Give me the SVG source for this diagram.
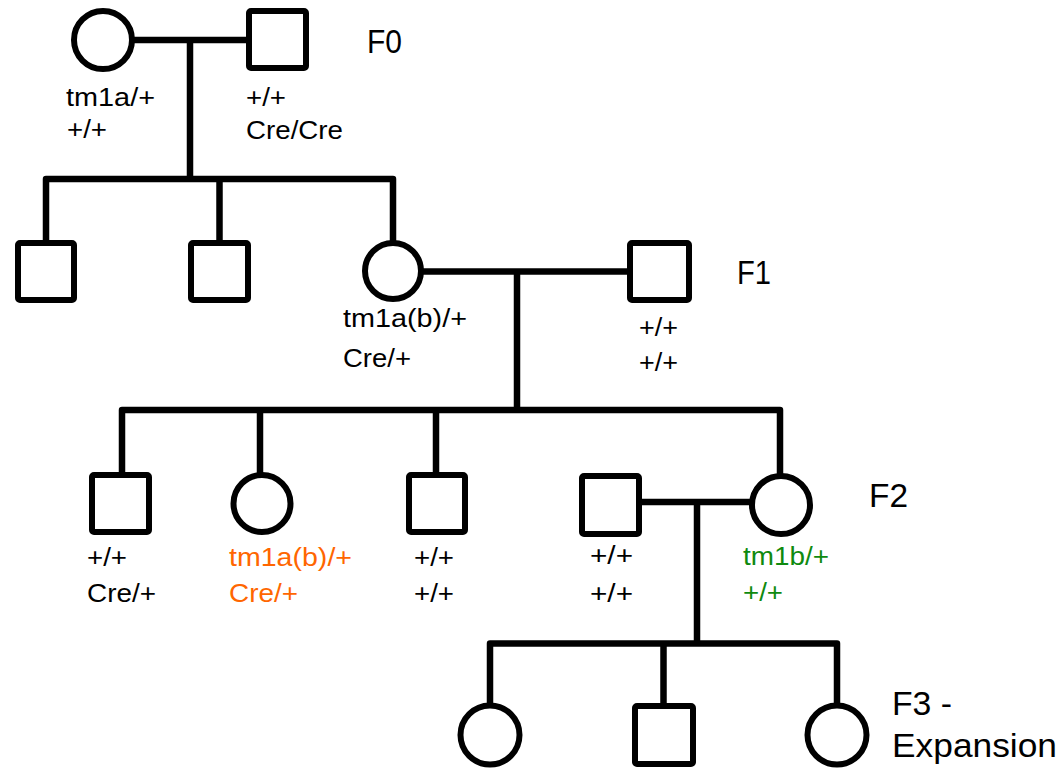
<svg xmlns="http://www.w3.org/2000/svg" width="1059" height="770" viewBox="0 0 1059 770">
<style>
.sym{fill:#fff;stroke:#000;stroke-width:6;stroke-linejoin:round}
.ln{fill:none;stroke:#000;stroke-width:6.5;stroke-linejoin:round;stroke-linecap:butt}
.lb{font-family:"Liberation Sans",Arial,sans-serif;font-size:25.5px;fill:#000}
.gen{font-family:"Liberation Sans",Arial,sans-serif;font-size:34px;fill:#000}
.or{fill:#FF6600}
.gr{fill:#0F8A0F}
</style>
<rect width="1059" height="770" fill="#fff"/>
<g id="connectors">
<path class="ln" d="M132,40 H249"/>
<path class="ln" d="M190,40 V179"/>
<path class="ln" d="M46,243 V179 H393 V243"/>
<path class="ln" d="M219.5,179 V243"/>
<path class="ln" d="M421,271.5 H630"/>
<path class="ln" d="M517,271.5 V410"/>
<path class="ln" d="M122,475 V410 H780 V476"/>
<path class="ln" d="M260,410 V475"/>
<path class="ln" d="M436,410 V475"/>
<path class="ln" d="M639,502 H752"/>
<path class="ln" d="M697,502 V643.5"/>
<path class="ln" d="M490,705.5 V643.5 H837 V705.5"/>
<path class="ln" d="M663.5,643.5 V706"/>
</g>
<g id="f0-female">
<circle class="sym" cx="103" cy="40" r="29"/>
<text class="lb" x="66" y="106" textLength="89" lengthAdjust="spacingAndGlyphs">tm1a/+</text>
<text class="lb" x="67" y="138" textLength="40" lengthAdjust="spacingAndGlyphs">+/+</text>
</g>
<g id="f0-male">
<rect class="sym" x="249" y="11" width="57" height="57" rx="2"/>
<text class="lb" x="246" y="106" textLength="40" lengthAdjust="spacingAndGlyphs">+/+</text>
<text class="lb" x="246" y="139" textLength="97" lengthAdjust="spacingAndGlyphs">Cre/Cre</text>
</g>
<g id="label-f0"><text class="gen" x="367" y="53" textLength="35" lengthAdjust="spacingAndGlyphs">F0</text></g>
<g id="f1-male-1"><rect class="sym" x="18" y="243" width="56" height="57" rx="2"/></g>
<g id="f1-male-2"><rect class="sym" x="191" y="243" width="57" height="57" rx="2"/></g>
<g id="f1-female">
<circle class="sym" cx="393" cy="271" r="28"/>
<text class="lb" x="343" y="327" textLength="124" lengthAdjust="spacingAndGlyphs">tm1a(b)/+</text>
<text class="lb" x="343" y="367" textLength="68" lengthAdjust="spacingAndGlyphs">Cre/+</text>
</g>
<g id="f1-male-partner">
<rect class="sym" x="630" y="243" width="59" height="57" rx="2"/>
<text class="lb" x="639" y="336" textLength="39" lengthAdjust="spacingAndGlyphs">+/+</text>
<text class="lb" x="639" y="371" textLength="39" lengthAdjust="spacingAndGlyphs">+/+</text>
</g>
<g id="label-f1"><text class="gen" x="737" y="284" textLength="34" lengthAdjust="spacingAndGlyphs">F1</text></g>
<g id="f2-male-1">
<rect class="sym" x="92" y="475" width="57" height="57" rx="2"/>
<text class="lb" x="87" y="566" textLength="40" lengthAdjust="spacingAndGlyphs">+/+</text>
<text class="lb" x="87" y="602" textLength="69" lengthAdjust="spacingAndGlyphs">Cre/+</text>
</g>
<g id="f2-female-1">
<circle class="sym" cx="262" cy="503.5" r="28.5"/>
<text class="lb or" x="229" y="566" textLength="123" lengthAdjust="spacingAndGlyphs">tm1a(b)/+</text>
<text class="lb or" x="229" y="602" textLength="69" lengthAdjust="spacingAndGlyphs">Cre/+</text>
</g>
<g id="f2-male-2">
<rect class="sym" x="409" y="475" width="56" height="57" rx="2"/>
<text class="lb" x="414" y="566" textLength="40" lengthAdjust="spacingAndGlyphs">+/+</text>
<text class="lb" x="414" y="602" textLength="40" lengthAdjust="spacingAndGlyphs">+/+</text>
</g>
<g id="f2-male-partner">
<rect class="sym" x="582" y="476" width="57" height="58" rx="2"/>
<text class="lb" x="590" y="564" textLength="43" lengthAdjust="spacingAndGlyphs">+/+</text>
<text class="lb" x="590" y="602" textLength="43" lengthAdjust="spacingAndGlyphs">+/+</text>
</g>
<g id="f2-female-2">
<circle class="sym" cx="781" cy="505" r="29"/>
<text class="lb gr" x="743" y="565" textLength="86" lengthAdjust="spacingAndGlyphs">tm1b/+</text>
<text class="lb gr" x="743" y="601" textLength="40" lengthAdjust="spacingAndGlyphs">+/+</text>
</g>
<g id="label-f2"><text class="gen" x="869" y="507" textLength="39" lengthAdjust="spacingAndGlyphs">F2</text></g>
<g id="f3-female-1"><circle class="sym" cx="490" cy="735" r="29.5"/></g>
<g id="f3-male"><rect class="sym" x="635" y="706" width="58" height="58" rx="2"/></g>
<g id="f3-female-2"><circle class="sym" cx="837" cy="735" r="29.5"/></g>
<g id="label-f3">
<text class="gen" x="892" y="715" textLength="60" lengthAdjust="spacingAndGlyphs">F3 -</text>
<text class="gen" x="892" y="757" textLength="165" lengthAdjust="spacingAndGlyphs">Expansion</text>
</g>
</svg>
